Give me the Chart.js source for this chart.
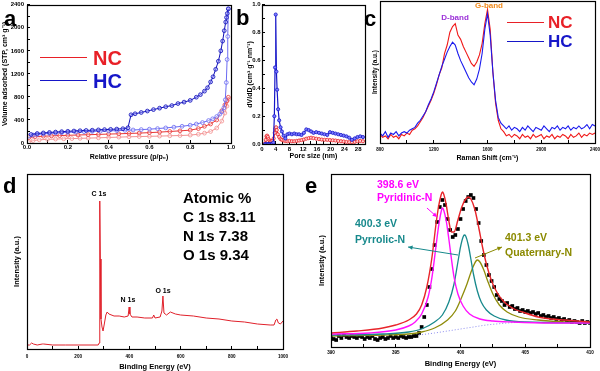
<!DOCTYPE html>
<html>
<head>
<meta charset="utf-8">
<script src="https://cdn.jsdelivr.net/npm/chart.js@4.4.1/dist/chart.umd.min.js"></script>
<style>
  html, body { margin: 0; padding: 0; background: #fff; }
  #fig { position: relative; width: 600px; height: 371px; overflow: hidden;
         font-family: "Liberation Sans", Arial, sans-serif; font-weight: bold; }
  #fig canvas { position: absolute; }
  .t { position: absolute; white-space: nowrap; line-height: 1; z-index: 2; }
  .ln { position: absolute; height: 0; z-index: 2; }
</style>
</head>
<body>
<div id="fig"></div>
<script>
// ---- (a) N2 sorption isotherms ----
const pHCads = [0.01,0.03,0.05,0.08,0.11,0.14,0.17,0.2,0.24,0.28,0.32,0.36,0.4,0.44,0.48,0.52,0.56,0.6,0.64,0.68,0.72,0.76,0.8,0.83,0.86,0.89,0.91,0.93,0.945,0.955,0.965,0.972,0.977,0.981,0.984,0.987];
const vHCads = [120,138,148,158,166,173,179,185,191,196,201,206,210,215,220,226,233,240,250,262,275,290,309,330,355,390,420,460,500,540,610,750,1050,1450,1850,2330];
const pHCdes = [0.987,0.982,0.978,0.974,0.967,0.959,0.95,0.938,0.925,0.912,0.9,0.885,0.87,0.85,0.83,0.8,0.77,0.74,0.71,0.68,0.65,0.62,0.59,0.56,0.53,0.51,0.495,0.47,0.44,0.41,0.38,0.35,0.32,0.29,0.26,0.23,0.2,0.17,0.14,0.11,0.08,0.05,0.02];
const vHCdes = [2330,2250,2180,2100,1950,1770,1600,1420,1280,1150,1060,960,900,840,795,740,710,685,650,630,605,580,555,530,508,490,265,248,242,237,233,228,222,218,213,208,203,197,190,183,175,165,148];
const pNCup = [0.01,0.04,0.08,0.12,0.16,0.2,0.25,0.3,0.35,0.4,0.45,0.5,0.55,0.6,0.65,0.7,0.75,0.8,0.84,0.87,0.9,0.93,0.955,0.97,0.98,0.987];
const vNCup = [95,110,118,124,129,134,139,144,149,155,160,166,172,180,189,200,211,223,250,290,330,400,560,660,730,794];
const pNClow = [0.01,0.03,0.06,0.1,0.14,0.18,0.22,0.26,0.3,0.35,0.4,0.45,0.5,0.55,0.6,0.65,0.7,0.75,0.8,0.84,0.87,0.9,0.93,0.955,0.97,0.98,0.987];
const vNClow = [20,42,55,63,68,73,77,81,85,90,96,102,108,112,116,120,125,130,137,152,171,200,260,380,520,640,760];

// ---- (b) pore size distribution ----
const dHC = [0.9,1.3,1.7,2.1,2.5,2.9,3.3,3.6,3.8,4.0,4.2,4.4,4.7,5.0,5.4,5.8,6.3,6.8,7.4,8.0,8.7,9.4,10.1,10.8,11.5,12.2,12.9,13.6,14.3,15.0,15.8,16.6,17.4,18.2,19.0,19.8,20.6,21.4,22.2,23.0,23.8,24.6,25.4,26.2,27.0,27.8,28.6,29.4];
const dvHC = [0,0,0,0,0,0,0.01,0.2,0.55,0.93,0.52,0.39,0.25,0.17,0.12,0.09,0.06,0.04,0.07,0.075,0.07,0.075,0.07,0.07,0.065,0.08,0.105,0.1,0.09,0.08,0.085,0.08,0.075,0.07,0.065,0.085,0.08,0.075,0.07,0.065,0.06,0.055,0.045,0.03,0.04,0.05,0.055,0.05];
const dNC = [0.9,1.1,1.3,1.5,1.7,1.9,2.2,2.5,2.8,3.1,3.4,3.7,3.9,4.1,4.3,4.6,5.0,5.4,5.8,6.3,6.8,7.4,8.0,8.7,9.4,10.1,10.8,11.5,12.2,12.9,13.6,14.3,15.0,15.8,16.6,17.4,18.2,19.0,19.8,20.6,21.4,22.2,23.0,23.8,24.6,25.4,26.2,27.0,27.8,28.6,29.4];
const dvNC = [0.005,0.03,0.055,0.06,0.05,0.035,0.025,0.02,0.02,0.025,0.04,0.08,0.11,0.12,0.1,0.07,0.05,0.035,0.03,0.025,0.022,0.02,0.022,0.02,0.02,0.022,0.025,0.028,0.032,0.038,0.042,0.045,0.042,0.038,0.035,0.032,0.03,0.03,0.028,0.027,0.025,0.022,0.02,0.018,0.015,0.013,0.012,0.015,0.02,0.022,0.02];

// ---- (c) Raman spectra, sampled every 20 cm-1 from 800 to 2400 ----
const ramanShift = Array.from({length: 81}, (_, i) => 800 + 20 * i);
const ramanNC = [6,4,5,3,6,4,5,3,6,5, 7,6,9,10,12,15,18,22,26,30, 35,41,48,53,63,69,78,82,84,76,
                 73,68,64,60,56,54,57,62,70,84, 94,80,50,28,16,10,8,5,6,4, 6,5,3,6,4,5,3,6,4,5,
                 6,3,5,4,6,3,5,4,6,5, 3,6,4,5,7,4,6,5,7,6, 7];
const ramanHC = [7,5,8,4,7,6,8,5,7,8, 7,9,10,11,14,16,19,22,27,31, 36,42,48,54,59,64,68,71,69,63,
                 58,54,50,46,43,41,45,52,63,80, 91,76,50,30,18,14,12,10,12,9, 11,10,8,11,9,12,10,8,11,10,
                 9,12,10,8,11,10,12,9,11,10, 12,9,11,10,12,10,11,13,10,13, 12];

// ---- (d) XPS survey ----
const surveyBE = [0,10,18,25,40,60,65,100,150,200,250,278,282,283.5,285,286.5,289,293,297,302,308,313,320,340,360,380,395,399,402,410,430,460,490,495,500,520,527,531,535,545,560,580,600,650,700,750,800,850,900,950,965,972,976,982,990,1000];
const surveyI = [4,4,6,5,4,5,5,4,4,4,4,4,6,80,148,90,30,22,18,25,34,37,35,33,33,32,33,42,35,32,32,31,31,34,31,32,38,53,36,34,37,35,34,33,31,30,28,27,25,24,24,29,30,26,25,28];

// ---- (e) N 1s high resolution, measured every 0.2 eV ----
const n1sBE = Array.from({length: 101}, (_, i) => 390 + 0.2 * i);
const n1sI = [10,8,7,11,9,12,10,9,11,10, 9,11,10,8,10,9,11,8,7,9, 10,8,9,11,9,10,9,11,10,9,
              10,10,11,11,14,20,30,42,60,78, 102,125,140,147,142,128,117,110,112,118,
              128,138,146,150,152,149,138,124,106,92, 82,72,66,60,52,48,46,42,44,40,
              41,38,39,36,37,35,36,34,35,33, 34,31,32,30,31,29,30,28,29,27, 28,26,27,25,26,25,24,26,24,25, 24];
const envBE = [390,392,394,395,396,396.6,397,397.4,397.8,398.1,398.3,398.5,398.6,398.7,398.9,399.1,399.3,399.5,399.8,400.1,400.4,400.6,400.8,401.1,401.4,401.7,402,402.4,402.8,403.3,404,405,406,407,408,409,410];
const envI = [14,16,19,22,27,33,42,60,90,122,140,152,155,153,142,126,115,115,127,140,148,150,148,138,120,100,83,66,55,46,39,34,30,28,27,26,25];
const pyridBE = [390,393,395,396,396.5,397,397.5,397.8,398.1,398.3,398.5,398.6,398.7,398.9,399.1,399.3,399.5,399.8,400.2,400.7,401.5,402.5,404,407,410];
const pyridI = [13,14,17,21,25,33,50,70,100,120,135,139,137,126,108,88,70,53,41,33,28,26,25,24,24];
const pyrroBE = [390,394,396,397,398,398.6,399.1,399.5,399.8,400,400.2,400.3,400.4,400.6,400.8,401,401.3,401.6,402,402.6,403.5,405,410];
const pyrroI = [12,13,15,18,25,32,45,63,85,100,110,112,111,102,88,73,56,45,37,31,27,25,24];
const quatBE = [390,394,396,397,398,399,399.6,400.1,400.5,400.9,401.2,401.3,401.5,401.8,402.1,402.5,403,403.6,404.5,406,408,410];
const quatI = [11,12,13,15,19,27,36,50,63,78,86,87,85,77,66,53,42,35,30,27,25,24];
const bgBE = [396.8,398,399,400,401,402,403.2,404.3,410];
const bgI = [12,14,16,18,20,22,23.5,24.5,24.5];

const FONT = '"Liberation Sans", Arial, sans-serif';
const fig = document.getElementById('fig');
const pts = (xs, ys) => xs.map((x, i) => ({x: x, y: ys[i]}));

// frame round the plot area
const framePlugin = {
  id: 'frame',
  afterDraw(chart) {
    const {ctx, chartArea: a} = chart;
    ctx.save();
    ctx.strokeStyle = '#000';
    ctx.lineWidth = 1.2;
    ctx.strokeRect(Math.round(a.left) + 0.5, Math.round(a.top) + 0.5,
                   Math.round(a.right - a.left), Math.round(a.bottom - a.top));
    ctx.restore();
  }
};

function axis(min, max, step, every, fmt, title, tickSize, titleSize, pad, show) {
  return {
    type: 'linear', min: min, max: max,
    border: {display: false},
    grid: {display: show, drawOnChartArea: false, drawTicks: true, tickLength: -3, color: '#000', tickWidth: 1},
    ticks: {display: show, stepSize: step, includeBounds: false, autoSkip: false, maxRotation: 0,
            padding: pad, color: '#000', font: {family: FONT, size: tickSize, weight: 'bold'},
            callback: (v, i) => (i % every === 0 ? fmt(v) : '')},
    title: {display: true, text: title, color: '#000', padding: 0,
            font: {family: FONT, size: titleSize, weight: 'bold'}}
  };
}

function panel(box, yW, xH, padT, padR, cfg) {
  const c = document.createElement('canvas');
  const w = yW + (box.r - box.l) + padR;
  const h = padT + (box.b - box.t) + xH;
  c.width = w; c.height = h;
  c.style.left = (box.l - yW) + 'px';
  c.style.top = (box.t - padT) + 'px';
  c.style.width = w + 'px'; c.style.height = h + 'px';
  fig.appendChild(c);
  const o = cfg.options;
  o.responsive = false;
  o.animation = false;
  o.devicePixelRatio = 1;
  o.layout = {padding: {top: padT, right: padR, left: 0, bottom: 0}};
  o.plugins = Object.assign({legend: {display: false}, tooltip: {enabled: false}}, o.plugins || {});
  o.scales.x.afterFit = s => { s.height = xH; s.paddingLeft = 0; s.paddingRight = 0; };
  o.scales.y.afterFit = s => { s.width = yW; s.paddingTop = 0; s.paddingBottom = 0; };
  cfg.plugins = (cfg.plugins || []).concat([framePlugin]);
  return new Chart(c, cfg);
}

function text(str, x, baseline, size, color, center) {
  const d = document.createElement('div');
  d.className = 't';
  d.textContent = str;
  d.style.fontSize = size + 'px';
  d.style.color = color;
  d.style.left = x + 'px';
  d.style.top = (baseline - 0.8465 * size) + 'px';
  if (center) d.style.transform = 'translateX(-50%)';
  fig.appendChild(d);
}
function line(x1, x2, y, color, w) {
  const d = document.createElement('div');
  d.className = 'ln';
  d.style.left = x1 + 'px';
  d.style.width = (x2 - x1) + 'px';
  d.style.top = (y - w / 2) + 'px';
  d.style.borderTop = w + 'px solid ' + color;
  fig.appendChild(d);
}

const RED = '#e82027', BLUE = '#1616c8';
const f1 = v => v.toFixed(1);
const f0 = v => String(Math.round(v));

// (a)
function isoSet(xs, ys, color, fill) {
  return {data: pts(xs, ys), borderColor: color, borderWidth: 1, pointRadius: 1.9,
          pointBorderWidth: 0.8, pointBorderColor: color, pointBackgroundColor: fill};
}
panel({l: 27, t: 3, r: 231, b: 143}, 26, 18, 3, 8, {
  type: 'line',
  data: {datasets: [
    isoSet(pHCdes, vHCdes, '#1010b8', 'rgba(150,150,255,0.5)'),
    isoSet(pHCads, vHCads, '#6a6af2', 'rgba(255,255,255,0.3)'),
    isoSet(pNCup, vNCup, '#e83535', 'rgba(255,255,255,0.3)'),
    isoSet(pNClow, vNClow, '#f29090', 'rgba(255,255,255,0.3)')
  ]},
  options: {scales: {
    x: axis(0, 1, 0.1, 2, f1, 'Relative pressure (p/p\u2080)', 6, 7, 4, true),
    y: axis(0, 2400, 200, 2, f0, 'Volume adsorbed (STP, cm\u00b3 g\u207b\u00b9)', 6, 7, 6, true)
  }}
});

// (b)
panel({l: 262, t: 3, r: 365, b: 144}, 16, 16, 3, 8, {
  type: 'line',
  data: {datasets: [
    {data: pts(dHC, dvHC), borderColor: BLUE, borderWidth: 1.2, pointRadius: 1.6, pointBorderWidth: 0.8,
     pointBorderColor: BLUE, pointBackgroundColor: '#7c7cff'},
    {data: pts(dNC, dvNC), borderColor: RED, borderWidth: 1.2, pointRadius: 1.6, pointBorderWidth: 0.8,
     pointBorderColor: RED, pointBackgroundColor: '#ffd0d0'}
  ]},
  options: {scales: {
    x: axis(0, 30, 2, 2, f0, 'Pore size (nm)', 6, 7, 5, true),
    y: axis(0, 1, 0.1, 2, f1, 'dV/dD (cm\u00b3 g\u207b\u00b9 nm\u207b\u00b9)', 6, 7, 4.5, true)
  }}
});

// (c)
const cY = axis(0, 100, 20, 1, f0, 'Intensity (a.u.)', 5, 6.5, 2, false);
panel({l: 380, t: 1, r: 595, b: 143}, 9, 19, 1, 5, {
  type: 'line',
  data: {datasets: [
    {data: pts(ramanShift, ramanHC), borderColor: '#1a1aee', borderWidth: 1.1, pointRadius: 0},
    {data: pts(ramanShift, ramanNC), borderColor: '#f01818', borderWidth: 1.1, pointRadius: 0}
  ]},
  options: {scales: {
    x: axis(800, 2400, 200, 2, f0, 'Raman Shift (cm\u207b\u00b9)', 4.5, 7, 7.5, true),
    y: cY
  }}
});

// (d)
panel({l: 27, t: 174, r: 283, b: 349}, 15, 22, 4, 10, {
  type: 'line',
  data: {datasets: [
    {data: pts(surveyBE, surveyI), borderColor: '#e0202a', borderWidth: 1, pointRadius: 0}
  ]},
  options: {scales: {
    x: axis(0, 1000, 100, 2, f0, 'Binding Energy (eV)', 4.6, 7.5, 7.5, true),
    y: axis(0, 175, 25, 1, f0, 'Intensity (a.u.)', 5, 7.5, 2, false)
  }}
});

// (e)
const arrows = [
  {from: [397.41, 139], to: [398.19, 130], color: '#ff00ff'},
  {from: [399.81, 92], to: [395.95, 100], color: '#17898c'},
  {from: [401.12, 89], to: [403.2, 100], color: '#8b8a00'}
];
const arrowPlugin = {
  id: 'arrows',
  afterDatasetsDraw(chart) {
    const {ctx, scales: {x, y}} = chart;
    ctx.save();
    arrows.forEach(a => {
      const x1 = x.getPixelForValue(a.from[0]), y1 = y.getPixelForValue(a.from[1]);
      const x2 = x.getPixelForValue(a.to[0]), y2 = y.getPixelForValue(a.to[1]);
      ctx.strokeStyle = a.color; ctx.fillStyle = a.color; ctx.lineWidth = 1;
      ctx.beginPath(); ctx.moveTo(x1, y1); ctx.lineTo(x2, y2); ctx.stroke();
      const ang = Math.atan2(y2 - y1, x2 - x1), L = 5;
      ctx.beginPath();
      ctx.moveTo(x2, y2);
      ctx.lineTo(x2 - L * Math.cos(ang - 0.45), y2 - L * Math.sin(ang - 0.45));
      ctx.lineTo(x2 - L * Math.cos(ang + 0.45), y2 - L * Math.sin(ang + 0.45));
      ctx.closePath(); ctx.fill();
    });
    ctx.restore();
  }
};
function fitSet(xs, ys, color, w) {
  return {data: pts(xs, ys), borderColor: color, borderWidth: w, pointRadius: 0, cubicInterpolationMode: 'monotone'};
}
panel({l: 331, t: 174, r: 590, b: 347}, 14, 21, 4, 8, {
  type: 'line',
  data: {datasets: [
    fitSet(envBE, envI, '#e8242a', 1.4),
    fitSet(pyridBE, pyridI, '#ff10ff', 1.4),
    fitSet(pyrroBE, pyrroI, '#17898c', 1.3),
    fitSet(quatBE, quatI, '#8f8c0a', 1.3),
    Object.assign(fitSet(bgBE, bgI, '#8a8aee', 1), {borderDash: [1, 2]}),
    {data: pts(n1sBE, n1sI), showLine: false, pointStyle: 'rect', pointRadius: 2.6,
     pointBorderWidth: 0, pointBackgroundColor: '#000'}
  ]},
  options: {scales: {
    x: axis(390, 410, 2.5, 2, f0, 'Binding Energy (eV)', 4.6, 7.5, 6, true),
    y: axis(0, 173, 25, 1, f0, 'Intensity (a.u.)', 5, 7.5, 2, false)
  }},
  plugins: [arrowPlugin]
});

// panel letters
text('a', 4, 27, 22, '#000');
text('b', 236, 26, 22, '#000');
text('c', 364, 27, 22, '#000');
text('d', 3, 194, 22, '#000');
text('e', 305, 194, 22, '#000');

// legends (a) and (c)
line(40, 87, 58, RED, 1.5); text('NC', 93, 65.2, 20, RED);
line(40, 87, 81, BLUE, 1.5); text('HC', 93, 88.2, 20, BLUE);
line(507, 544, 22.7, RED, 1.5); text('NC', 548, 28.8, 17, RED);
line(507, 544, 41.7, BLUE, 1.5); text('HC', 548, 47.8, 17, BLUE);
text('D-band', 455, 20.9, 8, '#9b30d8', true);
text('G-band', 489, 8.9, 8, '#f08a1c', true);

// (d) annotations
text('C 1s', 99, 195.5, 7, '#000', true);
text('N 1s', 128, 301.5, 7, '#000', true);
text('O 1s', 163, 292.5, 7, '#000', true);
text('Atomic %', 183, 202.4, 15, '#000');
text('C 1s 83.11', 183, 221.4, 15, '#000');
text('N 1s 7.38', 183, 240.4, 15, '#000');
text('O 1s 9.34', 183, 259.4, 15, '#000');

// (e) annotations
text('398.6 eV', 377, 187.8, 10.5, '#ff00ff');
text('Pyridinic-N', 377, 201.1, 10.5, '#ff00ff');
text('400.3 eV', 355, 226.8, 10.5, '#17898c');
text('Pyrrolic-N', 355, 242.8, 10.5, '#17898c');
text('401.3 eV', 505, 240.8, 10.5, '#8b8a00');
text('Quaternary-N', 505, 255.8, 10.5, '#8b8a00');
</script>
</body>
</html>
